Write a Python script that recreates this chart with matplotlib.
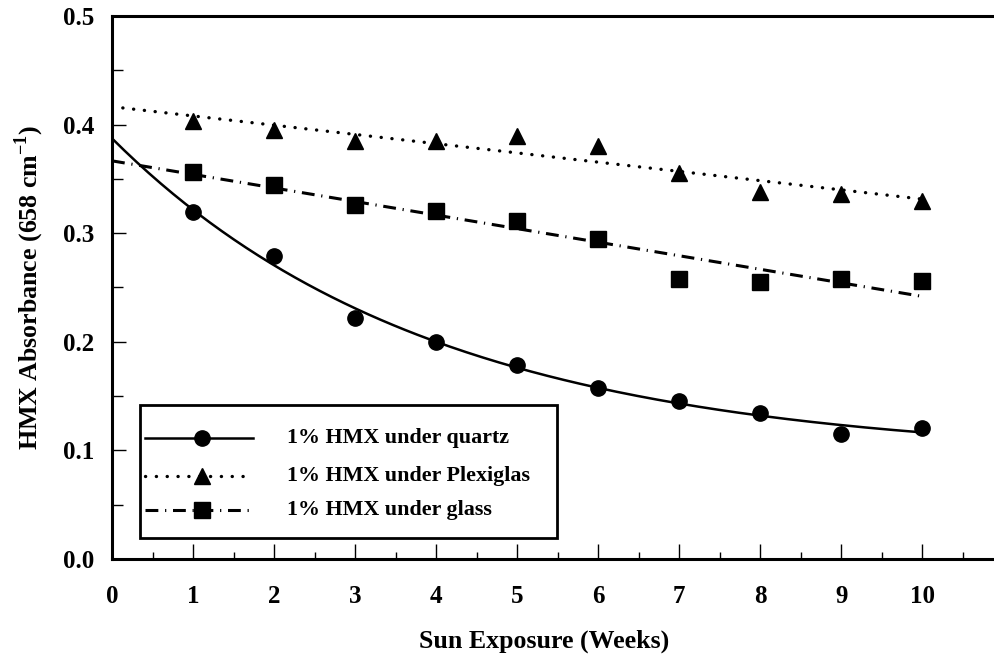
import numpy as np
import matplotlib
matplotlib.use("Agg")
import matplotlib.pyplot as plt
from matplotlib.ticker import MultipleLocator, FixedLocator
from matplotlib.patches import Rectangle
from matplotlib.lines import Line2D

plt.rcParams['font.family'] = ['Liberation Serif', 'DejaVu Serif']
plt.rcParams['font.weight'] = 'bold'
plt.rcParams['mathtext.fontset'] = 'custom'
plt.rcParams['mathtext.rm'] = 'Liberation Serif:bold'
plt.rcParams['mathtext.bf'] = 'Liberation Serif:bold'

# Sun exposure (weeks) and measured absorbance at 658 cm^-1
weeks = [1, 2, 3, 4, 5, 6, 7, 8, 9, 10]
quartz = [0.319, 0.279, 0.222, 0.200, 0.179, 0.157, 0.145, 0.134, 0.115, 0.121]
plexiglas = [0.403, 0.395, 0.385, 0.385, 0.389, 0.380, 0.355, 0.338, 0.336, 0.330]
glass = [0.356, 0.344, 0.326, 0.320, 0.311, 0.295, 0.258, 0.255, 0.258, 0.256]

series_labels = ["1% HMX under quartz", "1% HMX under Plexiglas", "1% HMX under glass"]
x_ticklabels = ["0", "1", "2", "3", "4", "5", "6", "7", "8", "9", "10"]
y_ticklabels = ["0.0", "0.1", "0.2", "0.3", "0.4", "0.5"]

x = np.array(weeks, float)
xf = np.linspace(0, 10, 200)


def exp_fit(xd, yd):
    """Least-squares fit of y = a + b*exp(-k x) (grid over k, linear in a, b)."""
    best = None
    for k in np.linspace(0.01, 1.5, 3000):
        A = np.column_stack([np.ones_like(xd), np.exp(-k * xd)])
        coef, *_ = np.linalg.lstsq(A, yd, rcond=None)
        r = np.sum((A @ coef - yd) ** 2)
        if best is None or r < best[0]:
            best = (r, k, coef)
    _, k, (a, b) = best
    return lambda t: a + b * np.exp(-k * t)


fq = exp_fit(x, np.array(quartz))
fp = np.poly1d(np.polyfit(x, plexiglas, 1))
fg = np.poly1d(np.polyfit(x, glass, 1))

fig = plt.figure(figsize=(9.95, 6.63), dpi=100)
ax = fig.add_axes([0.1126, 0.157, 0.8874, 0.819])

solid_kw = dict(color='black', lw=1.8, ls='-')
dot_kw = dict(color='black', lw=2.4, ls=(0, (0.05, 3.2)), dash_capstyle='round')
dashdot_kw = dict(color='black', lw=2.2, ls=(0, (4.2, 2.2, 0.4, 2.2)))
styles = [(solid_kw, 'o'), (dot_kw, '^'), (dashdot_kw, 's')]

ax.plot(xf, fq(xf), **solid_kw)
ax.plot(xf, fp(xf), **dot_kw)
ax.plot(xf, fg(xf), **dashdot_kw)

ax.plot(x, quartz, 'o', color='black', ms=11)
ax.plot(x, plexiglas, '^', color='black', ms=11.5)
ax.plot(x, glass, 's', color='black', ms=11)

# boxed key in the lower left corner
ax.add_patch(Rectangle((0.0317, 0.0387), 0.4723, 0.2449, transform=ax.transAxes,
                       facecolor='white', edgecolor='black', lw=2.0, zorder=4))
key_rows = [0.2228, 0.1530, 0.0902]
for (kw, mk), yk, lab in zip(styles, key_rows, series_labels):
    ax.add_line(Line2D([0.0374, 0.1597], [yk, yk], transform=ax.transAxes, zorder=5, **kw))
    ax.add_line(Line2D([0.1019], [yk], transform=ax.transAxes, marker=mk, ms=11,
                       color='black', ls='none', zorder=6))
    ax.text(0.198, yk, lab, transform=ax.transAxes, fontsize=15.8, fontweight='bold',
            va='center', ha='left', zorder=6)

ax.set_xlim(0, 10.9)
ax.set_ylim(0, 0.5)
ax.xaxis.set_major_locator(FixedLocator(range(11)))
ax.set_xticklabels(x_ticklabels)
ax.xaxis.set_minor_locator(MultipleLocator(0.5))
ax.yaxis.set_major_locator(FixedLocator([0, 0.1, 0.2, 0.3, 0.4, 0.5]))
ax.set_yticklabels(y_ticklabels)
ax.yaxis.set_minor_locator(MultipleLocator(0.05))

ax.tick_params(axis='both', which='both', direction='in', width=1.0, labelsize=18)
ax.tick_params(axis='x', which='major', length=11, pad=19)
ax.tick_params(axis='x', which='minor', length=5)
ax.tick_params(axis='y', which='major', length=10, pad=13)
ax.tick_params(axis='y', which='minor', length=8)
ax.tick_params(top=False, right=False)

for s in ['left', 'bottom', 'top']:
    ax.spines[s].set_linewidth(2.2)
ax.spines['right'].set_visible(False)

ax.set_xlabel("Sun Exposure (Weeks)", fontsize=18.6, fontweight='bold', labelpad=15)
ax.xaxis.label.set_x(0.489)
ax.set_ylabel(r"HMX Absorbance (658 cm$^{\mathbf{-1}}$)", fontsize=18.6, fontweight='bold', labelpad=12)

fig.savefig("out.png", dpi=100)
